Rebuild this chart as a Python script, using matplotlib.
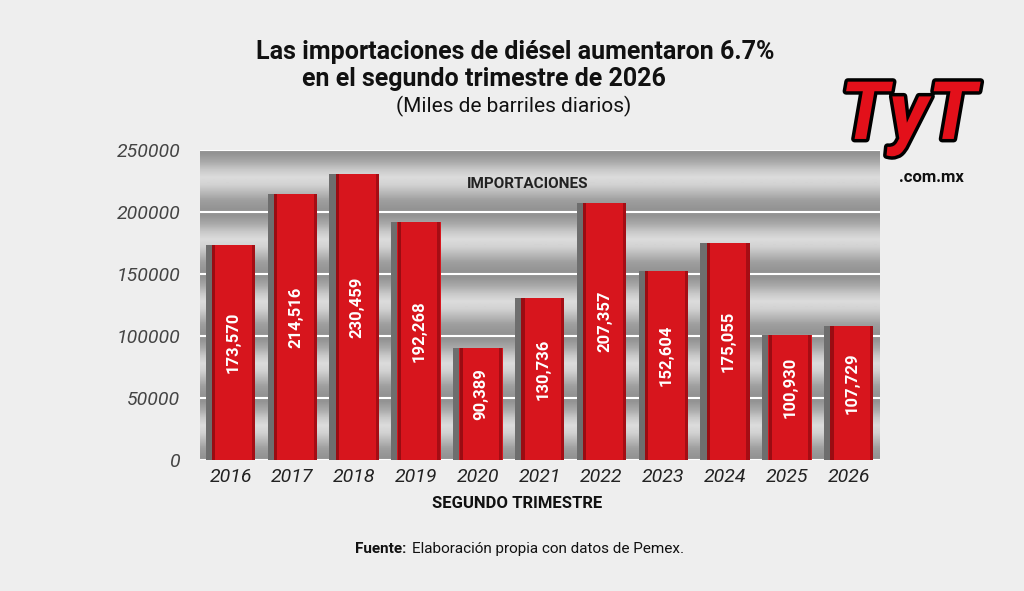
import numpy as np
import matplotlib
matplotlib.use("Agg")
import matplotlib.pyplot as plt
import matplotlib.patheffects as pe

plt.rcParams['font.family'] = ['Roboto', 'DejaVu Sans']

years = ["2016", "2017", "2018", "2019", "2020", "2021", "2022", "2023", "2024", "2025", "2026"]
values = [173570, 214516, 230459, 192268, 90389, 130736, 207357, 152604, 175055, 100930, 107729]
yticks = [0, 50000, 100000, 150000, 200000, 250000]

fig = plt.figure(figsize=(10.24, 5.91), dpi=100)
fig.patch.set_facecolor("#eeeeee")

ax = fig.add_axes([0.195, 0.222, 0.664, 0.524])
x = np.arange(len(years))
ax.set_xlim(-0.5, len(years) - 0.5)
ax.set_ylim(0, 250000)

# metallic gray background bands
band = np.array([0.58, 0.66, 0.78, 0.86, 0.82, 0.72, 0.62, 0.58])
for k in range(5):
    ax.imshow(band[:, None], cmap="gray", vmin=0, vmax=1, aspect="auto", interpolation="bilinear",
              extent=[-0.5, len(years) - 0.5, k * 50000, (k + 1) * 50000], zorder=0)
for t in yticks:
    ax.axhline(t, color="white", lw=1.5, zorder=1)

w = 0.8
ax.bar(x, values, width=w, color="#6e6e6e", zorder=2)
ax.bar(x + 0.05, values, width=w - 0.1, color="#d7151d", zorder=3)
ax.bar(x - 0.27, values, width=0.05, color="#9a0c12", zorder=4)
ax.bar(x + 0.37, values, width=0.05, color="#a50d14", zorder=4)
for xi, v in zip(x, values):
    ax.text(xi + 0.05, v / 2 + 8000, f"{v:,}", rotation=90, ha="center", va="center",
            color="white", fontsize=12, fontweight="bold", zorder=5)

ax.text(4.8, 223000, "IMPORTACIONES", ha="center", va="center",
        fontsize=11, fontweight="bold", color="#222222", zorder=5)

ax.set_yticks(yticks)
ax.set_yticklabels([str(t) for t in yticks], fontsize=14, style="italic", color="#444444")
ax.set_xticks(x)
ax.set_xticklabels(years, fontsize=14, style="italic", color="#222222")
ax.tick_params(length=0, pad=6)
ax.tick_params(axis="y", pad=14)
for s in ax.spines.values():
    s.set_visible(False)

fig.text(0.505, 0.14, "SEGUNDO TRIMESTRE", ha="center", fontsize=12, fontweight="bold", color="#111111")
fig.text(0.25, 0.9, "Las importaciones de diésel aumentaron 6.7%", fontsize=18, fontweight="bold", color="#111111")
fig.text(0.295, 0.855, "en el segundo trimestre de 2026", fontsize=18, fontweight="bold", color="#111111")
fig.text(0.387, 0.81, "(Miles de barriles diarios)", fontsize=15, color="#111111")
fig.text(0.347, 0.065, "Fuente:", fontsize=11, fontweight="bold", color="#111111")
fig.text(0.402, 0.065, "Elaboración propia con datos de Pemex.", fontsize=11, color="#111111")

# logo
fig.text(0.887, 0.8, "TyT", ha="center", va="center", fontsize=58, fontweight="bold",
         style="italic", color="#e3101a",
         path_effects=[pe.withStroke(linewidth=5, foreground="black")])
fig.text(0.91, 0.7, ".com.mx", ha="center", va="center", fontsize=12, fontweight="bold", color="#111111")

fig.savefig("out.png", dpi=100, facecolor=fig.get_facecolor())
